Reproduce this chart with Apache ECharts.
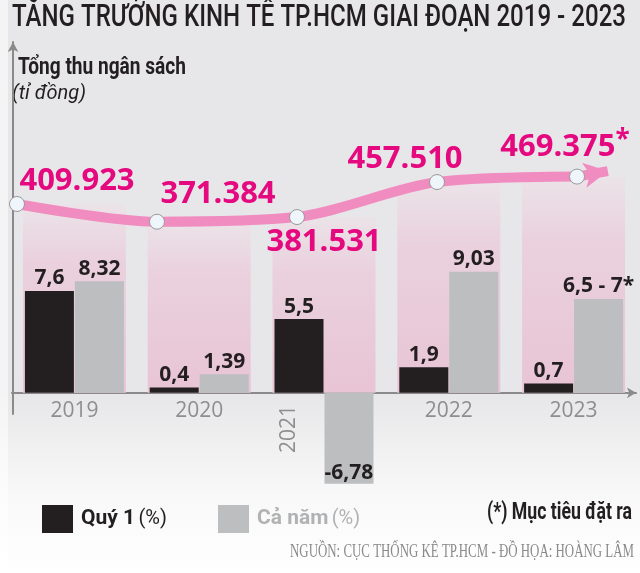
<!DOCTYPE html>
<html><head><meta charset="utf-8">
<script src="https://cdn.jsdelivr.net/npm/echarts@6/dist/echarts.min.js"></script>
<style>html,body{margin:0;padding:0;background:#fff}#c{width:640px;height:573px}</style>
</head><body><div id="c"></div>
<script>
// ---- data ----
const years = ['2019', '2020', '2021', '2022', '2023'];
const budgetRevenue = [409923, 371384, 381531, 457510, 469375]; // Tổng thu ngân sách (tỉ đồng)
const budgetMarks = ['', '', '', '', '*'];
const growthQ1 = [7.6, 0.4, 5.5, 1.9, 0.7];          // Quý 1 (%)
const growthYear = [8.32, 1.39, -6.78, 9.03, 7];     // Cả năm (%)
const growthYearText = ['8,32', '1,39', '-6,78', '9,03', '6,5 - 7*'];
const titleText = 'TĂNG TRƯỞNG KINH TẾ TP.HCM GIAI ĐOẠN 2019 - 2023';
const yTitle = 'Tổng thu ngân sách';
const yUnit = '(tỉ đồng)';
const footnote = '(*) Mục tiêu đặt ra';
const sourceText = 'NGUỒN: CỤC THỐNG KÊ TP.HCM - ĐỒ HỌA: HOÀNG LÂM';

// ---- styling ----
const SANS = 'Roboto, "Noto Sans", sans-serif';
const NUM = '"Open Sans", "Noto Sans", sans-serif';
const SERIF = '"Liberation Serif", "DejaVu Serif", serif';
const MAGENTA = '#e5097f';
const DARK = '#231f20';
const GREYBAR = '#bcbec0';
const GREYTXT = '#8e8e8e';
const BAND = '#f08cbf';
const labelOffsets = [[60, -23], [61, -28], [27, 25], [-32, -23], [-12, -29]];

const pctMin = -8, pctMax = 22;
const budMax = 640000, budMin = -budMax * (-pctMin) / pctMax;

const fmtThousands = v => String(v).replace(/\B(?=(\d{3})+(?!\d))/g, '.');
const fmtComma = v => String(v).replace('.', ',');
const last = budgetRevenue.length - 1;

const mctx = document.createElement('canvas').getContext('2d');
function fit(text, font, width) { mctx.font = font; return width / mctx.measureText(text).width; }
function txt(text, font, x, y, width, fill, align) {
  return {type: 'text', x: x, y: y, scaleX: fit(text, font, width), silent: true,
    style: {text: text, font: font, fill: fill, textAlign: align || 'left', textVerticalAlign: 'top', verticalAlign: 'top'}};
}

const chart = echarts.init(document.getElementById('c'), null, {renderer: 'canvas'});
const option = {
  animation: false,
  backgroundColor: {type: 'linear', x: 0, y: 0, x2: 0, y2: 1, colorStops: [
    {offset: 0, color: '#e7e7e9'}, {offset: 0.69, color: '#e7e7e9'},
    {offset: 0.86, color: '#f8f8f8'}, {offset: 1, color: '#ffffff'}]},
  grid: [
    {left: 12, right: 4, top: 98, height: 402},
    {left: 13, top: 42, width: 1, bottom: 159},
    {left: 12, right: 4, top: 98, bottom: 180}
  ],
  xAxis: [
    {type: 'category', gridIndex: 0, data: years, position: 'bottom',
      axisLine: {onZero: true, lineStyle: {color: '#8a8a8a', width: 2}, symbol: ['none', 'arrow'], symbolSize: [8, 9]},
      axisTick: {show: false}, axisLabel: {show: false}},
    {type: 'value', gridIndex: 0, min: -0.0357, max: 4.4214, show: false},
    {type: 'category', gridIndex: 0, data: years, show: false},
    {type: 'value', gridIndex: 1, show: false},
    {type: 'category', gridIndex: 2, data: years, position: 'bottom',
      axisLine: {show: false}, axisTick: {show: false},
      axisLabel: {color: GREYTXT, fontSize: 21, fontFamily: NUM, margin: 8,
        formatter: v => v === '2021' ? '' : v}},
    {type: 'category', gridIndex: 2, data: years, position: 'bottom',
      axisLine: {show: false}, axisTick: {show: false},
      axisLabel: {rotate: 90, margin: 12,
        formatter: v => v === '2021' ? '{r|' + v + '}' : '',
        rich: {r: {fontSize: 21, fontFamily: NUM, color: GREYTXT, padding: [0, 0, 70, 0]}}}}
  ],
  yAxis: [
    {type: 'value', gridIndex: 0, min: pctMin, max: pctMax, show: false},
    {type: 'value', gridIndex: 0, min: budMin, max: budMax, show: false},
    {type: 'value', gridIndex: 1, min: 0, max: 1,
      axisLine: {show: true, symbol: ['none', 'arrow'], symbolSize: [8, 10], lineStyle: {color: '#8a8a8a', width: 2}},
      axisLabel: {show: false}, axisTick: {show: false}, splitLine: {show: false}},
    {type: 'value', gridIndex: 2, min: 0, max: 1, show: false}
  ],
  legend: [
    {data: ['Quý 1'], left: 37, top: 500, icon: 'rect', itemWidth: 31, itemHeight: 28, itemGap: 0, selectedMode: false,
      formatter: n => '{b|' + n + '} {n|(%)}',
      textStyle: {color: DARK, padding: [0, 0, 0, 3], rich: {
        b: {fontFamily: SANS, fontWeight: 'bold', fontSize: 21, color: DARK},
        n: {fontFamily: SANS, fontSize: 20, color: DARK}}}},
    {data: ['Cả năm'], left: 213, top: 500, icon: 'rect', itemWidth: 31, itemHeight: 28, itemGap: 0, selectedMode: false,
      formatter: n => '{b|' + n + '} {n|(%)}',
      textStyle: {color: '#b0b2b4', padding: [0, 0, 0, 3], rich: {
        b: {fontFamily: SANS, fontWeight: 'bold', fontSize: 21, color: '#b0b2b4'},
        n: {fontFamily: SANS, fontSize: 20, color: '#b0b2b4'}}}}
  ],
  graphic: [
    {type: 'rect', shape: {x: 0, y: 0, width: 8, height: 573}, style: {fill: 'rgba(255,255,255,0.55)'}, silent: true, z: -10},
    txt(titleText, '500 31px ' + SANS, 12, 3, 614, DARK),
    txt(yTitle, 'bold 24px ' + SANS, 18, 56, 168, DARK),
    txt(yUnit, 'italic 20px ' + SANS, 12, 84, 74, DARK),
    txt(footnote, 'bold 23px ' + SANS, 632, 502, 145, DARK, 'right'),
    txt(sourceText, '19px ' + SERIF, 634, 543, 344, '#8a8a8a', 'right')
  ],
  series: [
    {name: 'Tổng thu (nền)', type: 'bar', xAxisIndex: 2, yAxisIndex: 1, data: budgetRevenue, barWidth: 103, silent: true, z: 1,
      itemStyle: {color: {type: 'linear', x: 0, y: 0, x2: 0, y2: 1, colorStops: [
        {offset: 0, color: '#ebe3e8'}, {offset: 0.3, color: '#ead1dd'}, {offset: 1, color: '#e8c4d4'}]}}},
    {name: 'Quý 1', type: 'bar', xAxisIndex: 0, yAxisIndex: 0, data: growthQ1, barWidth: 49, barGap: '2%', z: 3,
      itemStyle: {color: DARK},
      label: {show: true, position: 'top', distance: 2, fontFamily: NUM, fontWeight: 'bold', fontSize: 21, color: DARK,
        formatter: p => fmtComma(p.value)}},
    {name: 'Cả năm', type: 'bar', xAxisIndex: 0, yAxisIndex: 0, barWidth: 49, barGap: '2%', z: 3,
      data: growthYear.map(v => v < 0 ? {value: v, label: {position: 'insideBottom', distance: 0}} : v),
      itemStyle: {color: GREYBAR},
      label: {show: true, position: 'top', distance: 2, fontFamily: NUM, fontWeight: 'bold', fontSize: 21, color: DARK,
        formatter: p => growthYearText[p.dataIndex]}},
    {name: 'Tổng thu ngân sách', type: 'line', xAxisIndex: 1, yAxisIndex: 1, z: 6,
      data: budgetRevenue.map((v, i) => ({value: [i, v], label: {offset: labelOffsets[i]}})),
      smooth: 0.3, symbol: 'circle', symbolSize: 15, showAllSymbol: true,
      lineStyle: {color: BAND, width: 10, cap: 'round'},
      itemStyle: {color: '#eef5fb', borderColor: '#9a9a9a', borderWidth: 1},
      label: {show: true, position: 'inside',
        formatter: p => '{v|' + fmtThousands(p.value[1]) + '}' + (budgetMarks[p.dataIndex] ? '{s|' + budgetMarks[p.dataIndex] + '}' : ''),
        rich: {
          v: {fontFamily: NUM, fontWeight: 'bold', fontSize: 31, color: MAGENTA},
          s: {fontFamily: NUM, fontWeight: 'bold', fontSize: 26, color: MAGENTA, padding: [0, 0, 14, 0]}}},
      markLine: {silent: true, symbol: ['none', 'arrow'], symbolSize: [19, 24], label: {show: false},
        lineStyle: {color: BAND, width: 10, type: 'solid'}, emphasis: {disabled: true},
        data: [[{coord: [last, budgetRevenue[last]]}, {coord: [last + 0.22, budgetRevenue[last] + 12000]}]]}}
  ]
};
chart.setOption(option);
</script>
</body></html>
